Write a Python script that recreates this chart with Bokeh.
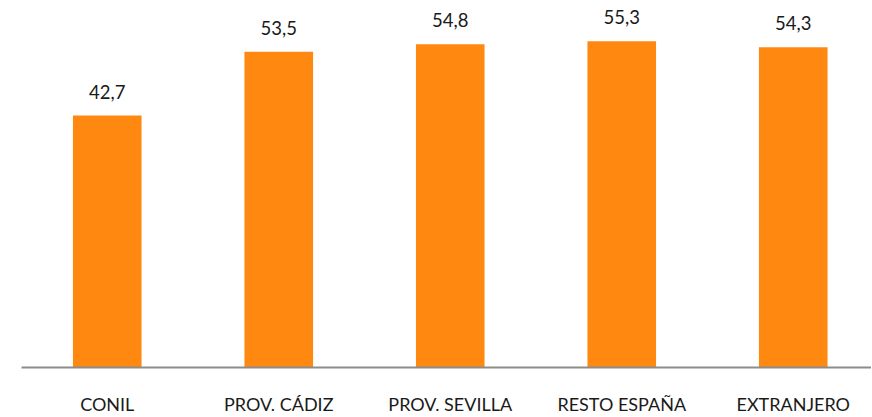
from bokeh.plotting import figure
from bokeh.models import Range1d, FixedTicker, ColumnDataSource, LinearAxis
from bokeh.embed import file_html
from bokeh.resources import INLINE
from bokeh.core.properties import value

categories = ["CONIL", "PROV. CÁDIZ", "PROV. SEVILLA", "RESTO ESPAÑA", "EXTRANJERO"]
values = [42.7, 53.5, 54.8, 55.3, 54.3]
labels = ["42,7", "53,5", "54,8", "55,3", "54,3"]

xs = [i + 0.5 for i in range(len(categories))]
src = ColumnDataSource(dict(x=xs, top=values, label=labels))

p = figure(width=871, height=417, output_backend="svg", toolbar_location=None,
           x_range=Range1d(0, 850 / 171.5), y_range=Range1d(0, 367 / 5.9),
           x_axis_location=None, y_axis_location=None,
           min_border_left=21, min_border_right=0, min_border_top=0, min_border_bottom=50)
p.outline_line_color = None
p.xgrid.visible = False
p.ygrid.visible = False
p.background_fill_color = "white"
p.border_fill_color = "white"

p.vbar(x="x", top="top", bottom=0, width=0.4, source=src,
       fill_color="#FF8811", line_color=None)

p.text(x="x", y="top", text="label", source=src, y_offset=-24,
       text_align="center", text_baseline="middle",
       text_font=value("Lato"), text_font_size="18.5px", text_color="#1a1a1a")

ax = LinearAxis(ticker=FixedTicker(ticks=xs),
                major_label_overrides={x: c for x, c in zip(xs, categories)})
ax.axis_line_color = "#8c8c8c"
ax.axis_line_width = 2
ax.major_tick_line_color = None
ax.minor_tick_line_color = None
ax.major_tick_out = 0
ax.major_tick_in = 0
ax.major_label_standoff = 25
ax.major_label_text_font = "Lato"
ax.major_label_text_font_size = "18px"
ax.major_label_text_color = "#1a1a1a"
p.add_layout(ax, "below")

open("out.html", "w").write(file_html(p, INLINE))
